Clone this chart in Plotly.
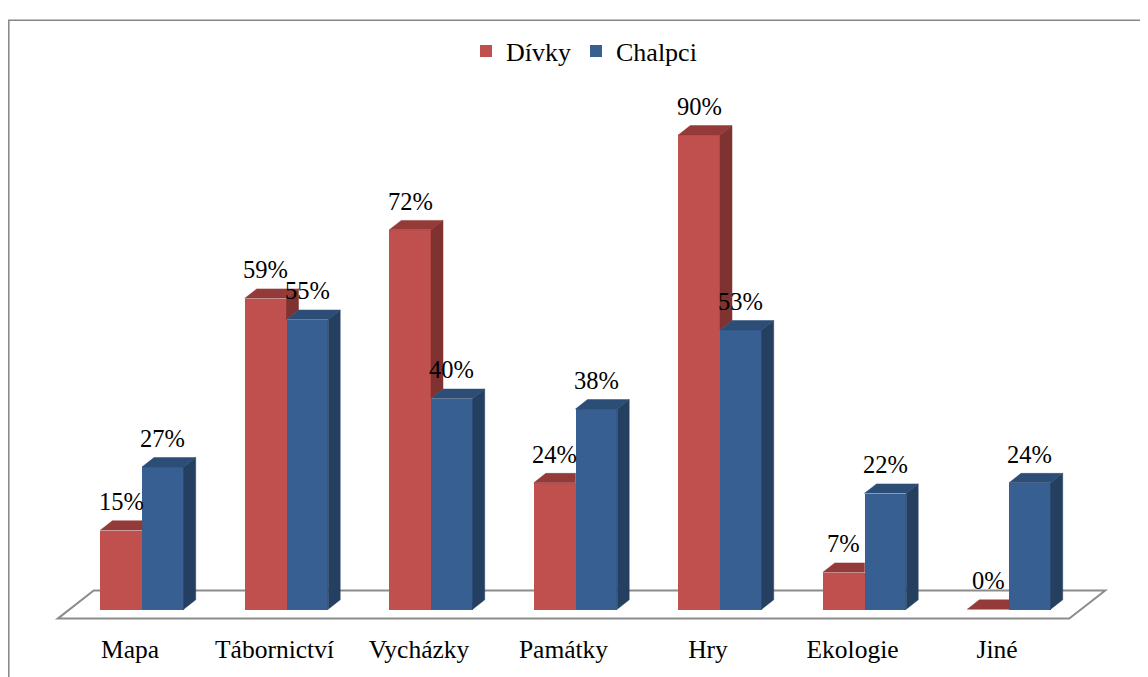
import plotly.graph_objects as go

# ---- data ----
categories = ["Mapa", "Tábornictví", "Vycházky", "Památky", "Hry", "Ekologie", "Jiné"]
divky = [15, 59, 72, 24, 90, 7, 0]
chalpci = [27, 55, 40, 38, 53, 22, 24]
series_names = ["Dívky", "Chalpci"]

# ---- styling constants ----
FONT = "Liberation Serif"
FS_TICK = 25.5
FS_LAB = 24.5
FS_LEG = 26
RED = "#C0504D"; RED_TOP = "#943A38"; RED_SIDE = "#7F3230"
BLUE = "#375F92"; BLUE_TOP = "#2C4D75"; BLUE_SIDE = "#243F60"
W = 0.2886      # bar width in category units
DX = 0.083      # depth offset (x units)
DY = 1.78       # depth offset (value units)

W_PX, H_PX = 1148, 677
OFF = 8  # page body margin offset
ML, MR, MT, MB = 26 - OFF, 8 + OFF, 80 - OFF, 49 + OFF
X_RANGE = [-0.80277, 6.90657]
Y_RANGE = [-3.5625, 99.19]

n = len(categories)
idx = list(range(n))

fig = go.Figure()

# front faces (bars)
fig.add_trace(go.Bar(x=idx, y=divky, width=[W] * n, offset=-W, base=0,
                     marker=dict(color=RED, line=dict(width=0)), name=series_names[0],
                     hoverinfo="skip"))
fig.add_trace(go.Bar(x=idx, y=chalpci, width=[W] * n, offset=0, base=0,
                     marker=dict(color=BLUE, line=dict(width=0)), name=series_names[1],
                     hoverinfo="skip"))


def add_poly(xs, ys, color):
    fig.add_trace(go.Scatter(x=xs, y=ys, mode="lines", fill="toself", fillcolor=color,
                             line=dict(width=0.5, color=color), hoverinfo="skip",
                             showlegend=False))


# red visible side + top faces
rs_x, rs_y, rt_x, rt_y = [], [], [], []
for i, (hr, hb) in enumerate(zip(divky, chalpci)):
    if hr > hb:
        rs_x += [i, i, i + DX, i + DX, i, None]
        rs_y += [hb, hr, hr + DY, hb + DY, hb, None]
        rt_x += [i - W, i, i + DX, i - W + DX, i - W, None]
        rt_y += [hr, hr, hr + DY, hr + DY, hr, None]
    else:
        rt_x += [i - W, i, i, i - W + DX, i - W, None]
        rt_y += [hr, hr, hr + DY, hr + DY, hr, None]
add_poly(rs_x, rs_y, RED_SIDE)
add_poly(rt_x, rt_y, RED_TOP)

# blue side + top faces
bs_x, bs_y, bt_x, bt_y = [], [], [], []
for i, hb in enumerate(chalpci):
    bs_x += [i + W, i + W, i + W + DX, i + W + DX, i + W, None]
    bs_y += [0, hb, hb + DY, DY, 0, None]
    bt_x += [i, i + W, i + W + DX, i + DX, i, None]
    bt_y += [hb, hb, hb + DY, hb + DY, hb, None]
add_poly(bs_x, bs_y, BLUE_SIDE)
add_poly(bt_x, bt_y, BLUE_TOP)

# data labels
annotations = []
for i, (hr, hb) in enumerate(zip(divky, chalpci)):
    for xc, v in ((i - W / 2, hr), (i + W / 2, hb)):
        annotations.append(dict(x=xc, y=v, xref="x", yref="y", text=f"{v}%",
                                showarrow=False, yanchor="bottom", xanchor="center",
                                yshift=13, font=dict(family=FONT, size=FS_LAB, color="black")))

# floor (parallelogram under the bars)
fx0, fx1 = -0.5, n - 0.5
floor_path = (f"M {fx0 - DX},{-DY} L {fx1 - DX},{-DY} L {fx1 + 2 * DX},{2 * DY} "
              f"L {fx0 + 2 * DX},{2 * DY} Z")
shapes = [dict(type="path", path=floor_path, xref="x", yref="y", layer="below",
               line=dict(color="#8C8C8C", width=2), fillcolor="rgba(0,0,0,0)")]

# outer frame (left + top visible)
plot_w = W_PX - ML - MR
plot_h = H_PX - MT - MB
px0 = (0.8 - ML) / plot_w
py_top = (H_PX - MB - (13 - OFF)) / plot_h
shapes.append(dict(type="path", xref="paper", yref="paper", layer="below",
                   path=f"M {px0},-0.2 L {px0},{py_top} L 1.1,{py_top}",
                   line=dict(color="#868686", width=1.5)))

fig.update_layout(
    width=W_PX, height=H_PX,
    margin=dict(l=ML, r=MR, t=MT, b=MB, pad=0),
    paper_bgcolor="white", plot_bgcolor="white",
    barmode="overlay", bargap=0,
    font=dict(family=FONT, size=FS_TICK, color="black"),
    showlegend=True,
    legend=dict(orientation="h", x=(584 - 26) / plot_w, xanchor="center",
                yref="container", y=(H_PX - (51 - OFF)) / H_PX, yanchor="middle",
                font=dict(family=FONT, size=FS_LEG, color="black"),
                bgcolor="rgba(0,0,0,0)", traceorder="normal"),
    xaxis=dict(range=X_RANGE, tickvals=[i - DX for i in idx], ticktext=categories,
               showgrid=False, zeroline=False, showline=False, ticks="",
               ticklabelstandoff=3,
               tickfont=dict(family=FONT, size=FS_TICK, color="black"), fixedrange=True),
    yaxis=dict(range=Y_RANGE, visible=False, fixedrange=True),
    annotations=annotations,
    shapes=shapes,
)

fig.write_html("out.html")
